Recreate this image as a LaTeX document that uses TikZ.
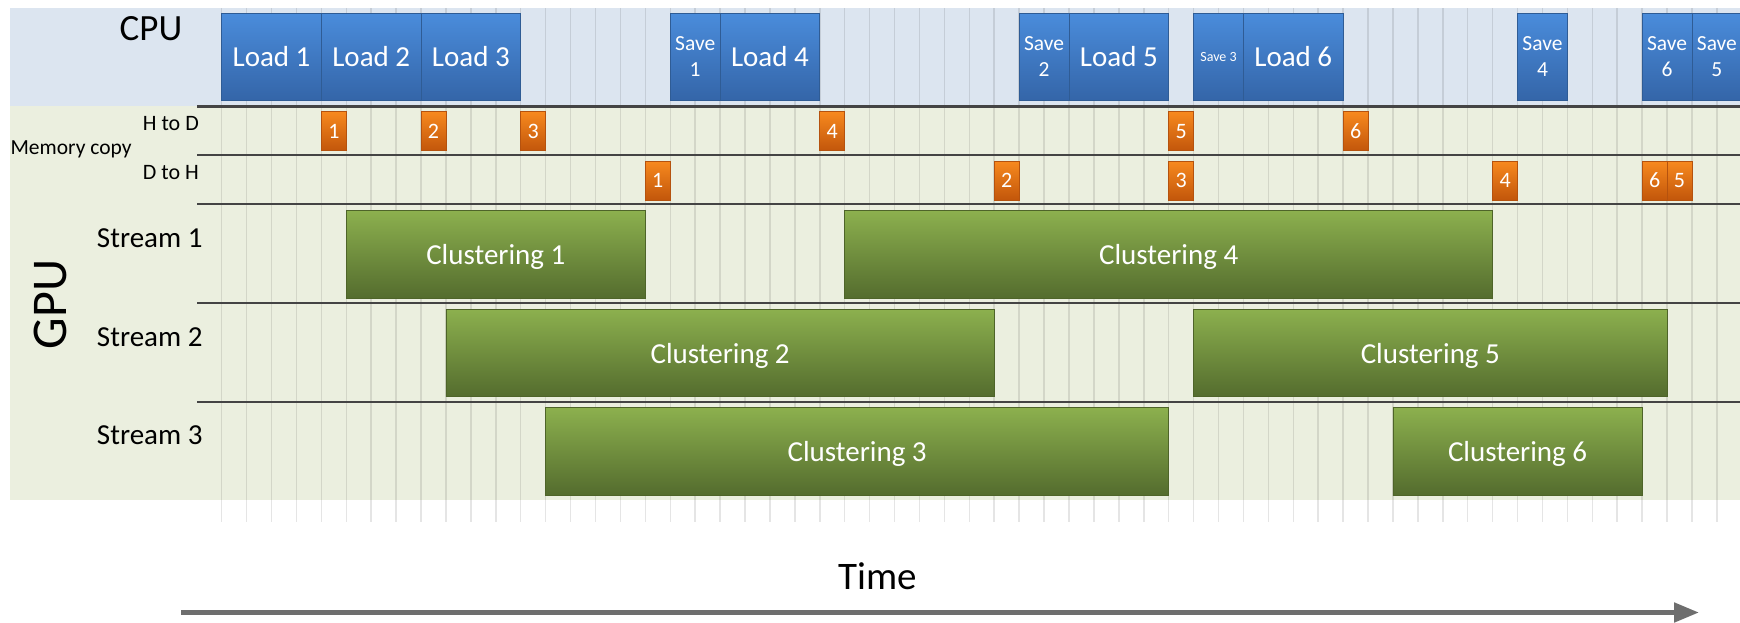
\documentclass[tikz,border=0pt]{standalone}
\usepackage{fontspec}
\setmainfont{Carlito}
\usetikzlibrary{arrows.meta}
\definecolor{cpuband}{HTML}{DCE5F0}
\definecolor{gpuband}{HTML}{EBEFDF}
\definecolor{bluetop}{HTML}{4A8CDB}
\definecolor{bluebot}{HTML}{3465A8}
\definecolor{blueedge}{HTML}{2F5C95}
\definecolor{orangetop}{HTML}{F7891E}
\definecolor{orangebot}{HTML}{C2560B}
\definecolor{orangeedge}{HTML}{B5520E}
\definecolor{greentop}{HTML}{8CB04E}
\definecolor{greenbot}{HTML}{546C2E}
\definecolor{greenedge}{HTML}{4E6429}
\definecolor{rowline}{HTML}{444444}
\definecolor{arrowgray}{HTML}{6E6E6E}
% #1 style, #2 name, #3 start time, #4 end time, #5 top y, #6 bottom y, #7 text
\newcommand{\tbar}[7]{%
  \pgfmathsetmacro\bx{221.7+24.92*(#3+#4)/2}%
  \pgfmathsetmacro\bw{24.92*(#4-#3)}%
  \pgfmathsetmacro\by{(#5+#6)/2}%
  \pgfmathsetmacro\bh{#6-#5}%
  \node[#1, minimum width=\bw pt, minimum height=\bh pt] (#2) at (\bx,\by) {#7};}
\begin{document}
\begin{tikzpicture}[x=1pt,y=-1pt,
  bar/.style={inner sep=0pt, outer sep=0pt, text=white, line width=0.8pt},
  bluebar/.style={bar, top color=bluetop, bottom color=bluebot, draw=blueedge, font=\fontsize{29}{33}\selectfont},
  savebar/.style={bluebar, align=center, font=\fontsize{21.5}{26}\selectfont},
  smallsave/.style={bluebar, font=\fontsize{14}{16}\selectfont},
  orangebar/.style={bar, top color=orangetop, bottom color=orangebot, draw=orangeedge, font=\fontsize{22}{26}\selectfont},
  greenbar/.style={bar, top color=greentop, bottom color=greenbot, draw=greenedge, font=\fontsize{29}{33}\selectfont, text depth=0pt},
  rowlabel/.style={anchor=east, inner sep=0pt, font=\fontsize{22}{26}\selectfont},
  streamlabel/.style={anchor=east, inner sep=0pt, font=\fontsize{29}{33}\selectfont},
  gridline/.style={black, opacity=0.1, line width=1.5pt},
  rowrule/.style={rowline, line width=2.2pt},
]
\useasboundingbox (0,0) rectangle (1740,623);
% bands
\fill[cpuband] (10.4,8.5) rectangle (1740,106.5);
\fill[gpuband] (10.4,106.5) rectangle (1740,500);
% grid
\foreach \i in {0,...,60}
  \draw[gridline] ({221.7+24.92*\i},8.5) -- ({221.7+24.92*\i},522);
% row rules
\foreach \yy in {106.5,155,204,303,402}
  \draw[rowrule] (197,\yy) -- (1740,\yy);
% labels
\node[inner sep=0pt, font=\fontsize{37}{40}\selectfont] (cpu) at (151,28.7) {CPU};
\node[anchor=base west, inner sep=0pt, font=\fontsize{21.5}{24}\selectfont] (memcopy) at (10.4,154) {Memory copy};
\node[rowlabel] (htod) at (199,123.3) {H to D};
\node[rowlabel] (dtoh) at (199,172.8) {D to H};
\node[streamlabel] (s1) at (202.7,238.5) {Stream 1};
\node[streamlabel] (s2) at (202.7,336.7) {Stream 2};
\node[streamlabel] (s3) at (202.7,435.2) {Stream 3};
\node[inner sep=0pt, rotate=90, font=\fontsize{50}{54}\selectfont] (gpu) at (50.2,304.5) {GPU};
\node[inner sep=0pt, font=\fontsize{39}{42}\selectfont] (time) at (878,576) {Time};
% time arrow
\coordinate (tstart) at (181,612.5);
\coordinate (tend) at (1699,612.5);
\draw[arrowgray, line width=5pt, -{Triangle[length=25pt,width=19pt]}] (tstart) -- (tend);
% CPU
\tbar{bluebar}{load1}{0}{4}{13.3}{100.7}{Load 1}
\tbar{bluebar}{load2}{4}{8}{13.3}{100.7}{Load 2}
\tbar{bluebar}{load3}{8}{12}{13.3}{100.7}{Load 3}
\tbar{savebar}{save1}{18}{20}{13.3}{100.7}{Save\\1}
\tbar{bluebar}{load4}{20}{24}{13.3}{100.7}{Load 4}
\tbar{savebar}{save2}{32}{34}{13.3}{100.7}{Save\\2}
\tbar{bluebar}{load5}{34}{38}{13.3}{100.7}{Load 5}
\tbar{smallsave}{save3}{39}{41}{13.3}{100.7}{Save 3}
\tbar{bluebar}{load6}{41}{45}{13.3}{100.7}{Load 6}
\tbar{savebar}{save4}{52}{54}{13.3}{100.7}{Save\\4}
\tbar{savebar}{save6}{57}{59}{13.3}{100.7}{Save\\6}
\tbar{savebar}{save5}{59}{61}{13.3}{100.7}{Save\\5}
% H to D
\tbar{orangebar}{h1}{4}{5}{111.7}{150.7}{1}
\tbar{orangebar}{h2}{8}{9}{111.7}{150.7}{2}
\tbar{orangebar}{h3}{12}{13}{111.7}{150.7}{3}
\tbar{orangebar}{h4}{24}{25}{111.7}{150.7}{4}
\tbar{orangebar}{h5}{38}{39}{111.7}{150.7}{5}
\tbar{orangebar}{h6}{45}{46}{111.7}{150.7}{6}
% D to H
\tbar{orangebar}{d1}{17}{18}{161.3}{200}{1}
\tbar{orangebar}{d2}{31}{32}{161.3}{200}{2}
\tbar{orangebar}{d3}{38}{39}{161.3}{200}{3}
\tbar{orangebar}{d4}{51}{52}{161.3}{200}{4}
\tbar{orangebar}{d6}{57}{58}{161.3}{200}{6}
\tbar{orangebar}{d5}{58}{59}{161.3}{200}{5}
% streams
\tbar{greenbar}{c1}{5}{17}{210.7}{298.3}{Clustering 1}
\tbar{greenbar}{c4}{25}{51}{210.7}{298.3}{Clustering 4}
\tbar{greenbar}{c2}{9}{31}{309.3}{396.7}{Clustering 2}
\tbar{greenbar}{c5}{39}{58}{309.3}{396.7}{Clustering 5}
\tbar{greenbar}{c3}{13}{38}{407.7}{495}{Clustering 3}
\tbar{greenbar}{c6}{47}{57}{407.7}{495}{Clustering 6}
\end{tikzpicture}
\end{document}
